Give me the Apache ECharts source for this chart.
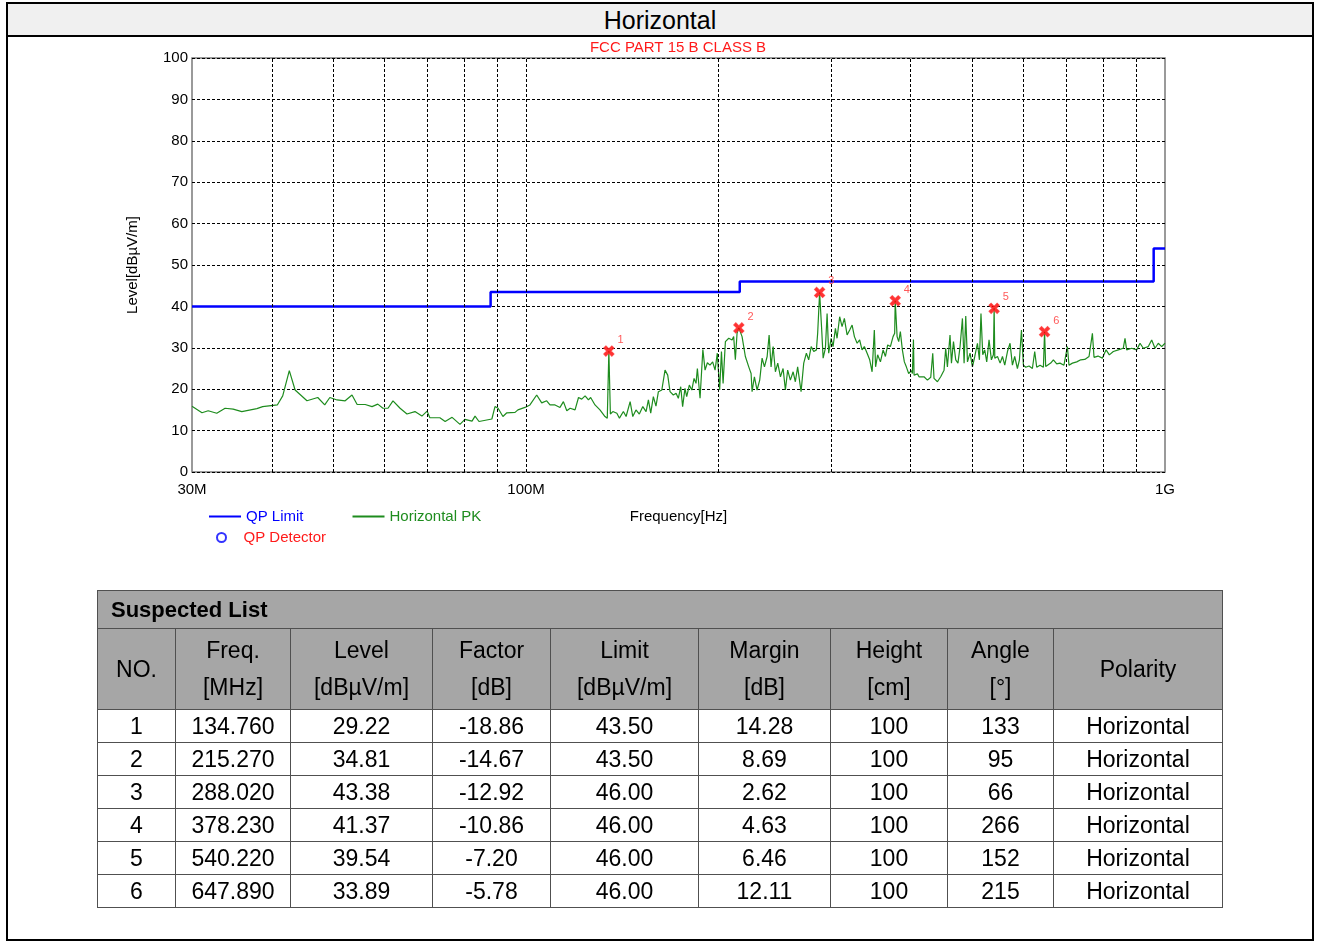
<!DOCTYPE html>
<html>
<head>
<meta charset="utf-8">
<script src="https://cdn.jsdelivr.net/npm/echarts@6/dist/echarts.min.js"></script>
<style>
  html, body { margin: 0; padding: 0; background: #fff; }
  body { width: 1318px; height: 942px; position: relative; overflow: hidden; font-family: "Liberation Sans", Arial, sans-serif; }
  #chart { position: absolute; left: 0; top: 0; width: 1318px; height: 942px; }
  #frame { position: absolute; left: 6px; top: 2px; width: 1308px; height: 939px; border: 2px solid #000; box-sizing: border-box; pointer-events: none; }
  #titlebar { position: absolute; left: 6px; top: 2px; width: 1308px; height: 35px; box-sizing: border-box; background: #f0f0f0; border: 2px solid #000; text-align: center; font-size: 25px; line-height: 33px; color: #000; }
  #tbl { position: absolute; left: 97px; top: 590px; border-collapse: collapse; font-size: 23px; color: #000; }
  #tbl td, #tbl th { border: 1px solid #505050; padding: 0; text-align: center; font-weight: normal; }
  #tbl .cap { background: #a6a6a6; text-align: left; font-weight: bold; padding-left: 13px; height: 37px; font-size: 22px; }
  #tbl .hd th { background: #a6a6a6; height: 80px; line-height: 37px; }
  #tbl .row td { height: 31px; line-height: 31px; padding-top: 1px; }
</style>
</head>
<body>
<div id="chart"></div>
<div id="titlebar">Horizontal</div>
<div id="frame"></div>
<table id="tbl"></table>
<script>
// ---------- data ----------
const xTickLabels = { 30: '30M', 100: '100M', 1000: '1G' };
const yTicks = [0, 10, 20, 30, 40, 50, 60, 70, 80, 90, 100];
const gridFreqs = [40, 50, 60, 70, 80, 90, 100, 200, 300, 400, 500, 600, 700, 800, 900];

// QP limit (MHz, dBuV/m)
const limitFreq  = [30, 88, 88, 216, 216, 960, 960, 1000];
const limitLevel = [40, 40, 43.5, 43.5, 46, 46, 54, 54];

// Horizontal PK trace [MHz, dBuV/m]
const pkTrace = [
  [30.0,15.9],[31.1,14.3],[31.8,14.8],[32.8,14.2],[33.8,15.4],[34.8,15.2],[35.9,14.6],[37.9,15.3],[38.7,15.8],
  [40.8,16.2],[41.6,18.4],[42.6,24.5],[43.5,19.8],[45.4,17.2],[47.2,18.0],[48.4,16.2],[49.3,18.0],[50.6,17.4],
  [52.1,17.2],[53.4,18.6],[54.4,16.3],[56.0,16.3],[57.4,15.8],[58.6,16.4],[59.7,15.4],[60.8,15.4],[61.9,17.2],
  [63.5,15.4],[65.1,14.0],[67.0,14.6],[68.7,13.5],[70.0,14.7],[70.7,13.1],[73.3,13.1],[74.7,12.2],[76.6,13.2],
  [78.8,11.5],[80.2,12.7],[82.3,12.3],[83.2,13.5],[84.4,12.2],[88.4,12.8],[89.4,15.8],[90.4,15.4],[92.0,13.4],
  [93.3,14.3],[96.1,14.4],[97.1,15.0],[99.6,15.6],
  [101.4,16.2],[103.9,18.6],[105.8,16.7],[107.7,17.2],[109.0,16.2],[111.0,16.2],[113.0,15.6],[114.4,17.0],
  [115.8,14.8],[117.2,15.4],[119.3,15.0],[120.8,18.0],[122.2,17.6],[123.7,18.4],[125.2,17.4],[126.2,18.0],
  [128.2,16.2],[130.5,15.0],[132.9,13.4],[134.0,13.0],[134.76,29.22],[135.5,14.0],[136.7,14.6],[138.7,14.2],
  [140.0,13.0],[142.0,14.6],[143.4,13.4],[145.5,17.0],[146.9,13.4],[148.6,15.0],[150.4,14.0],[152.3,15.8],
  [154.1,14.6],[155.4,17.4],[156.7,14.2],[158.2,18.2],[159.7,15.9],[161.1,19.4],[163.1,19.8],[165.0,24.6],
  [166.6,23.4],[168.0,19.4],[170.0,18.6],[171.7,19.0],[173.1,17.8],[174.6,20.6],[175.8,15.8],[177.3,20.2],
  [178.4,18.2],[180.1,21.0],[181.7,19.8],[183.2,22.6],[184.5,21.4],[185.4,25.0],[187.2,17.8],[189.1,29.6],
  [190.6,24.6],[192.2,26.4],[194.0,25.8],[195.9,26.6],[197.6,24.6],[199.2,28.7],[200.9,19.8],[202.2,29.1],
  [203.4,21.4],[205.1,31.5],[207.6,32.3],[208.8,32.3],[210.1,31.9],[211.3,32.7],[212.6,27.1],[213.9,33.5],
  [215.27,34.81],[217.8,32.7],[220.4,27.9],[223.1,25.4],[225.0,23.8],[225.8,19.4],[227.7,23.0],[229.9,19.8],
  [232.1,22.2],[234.1,27.5],[236.1,25.4],[238.4,27.9],[240.1,33.1],[241.8,25.4],[243.6,30.3],[245.6,24.2],
  [247.7,26.3],[250.1,23.0],[252.5,25.0],[254.6,19.8],[256.7,24.6],[259.2,22.2],[261.8,24.2],[263.9,21.8],
  [266.1,25.4],[269.4,19.4],[272.0,26.3],[274.6,28.7],[276.9,27.1],[279.4,30.3],[282.0,29.1],[284.7,29.5],
  [286.0,33.5],[288.02,43.38],[290.2,34.3],[291.7,27.5],[294.1,29.9],[295.9,38.3],[297.6,28.7],[300.2,32.3],
  [302.3,30.3],[304.9,34.7],[306.7,32.3],[309.6,37.5],[312.3,35.1],[314.9,37.1],[318.0,33.1],[321.0,34.3],
  [323.8,35.5],[326.5,32.7],[329.7,31.1],[332.7,31.9],[335.6,29.5],[338.4,30.3],[341.8,28.7],[345.0,27.1],
  [348.0,24.2],[350.8,34.3],[352.4,25.4],[355.0,28.3],[358.6,26.6],[362.1,29.5],[365.1,27.9],[368.1,30.7],
  [371.7,30.3],[375.3,32.7],[377.5,33.5],[378.23,41.37],[380.8,32.7],[383.0,31.5],[385.3,33.9],[388.1,29.5],
  [390.9,26.6],[393.7,25.4],[397.0,23.8],[401.0,24.5],[402.4,23.8],[403.9,32.0],[404.8,23.4],[407.3,23.4],
  [409.8,23.7],[412.1,23.0],[419.6,23.0],[424.8,22.2],[429.9,22.9],[433.0,28.7],[435.0,22.6],[440.4,21.8],
  [445.6,23.0],[451.0,24.6],[453.7,29.9],[456.5,25.4],[460.8,33.1],[463.2,26.3],[466.6,31.5],[470.4,27.1],
  [474.2,26.3],[477.8,30.3],[481.9,37.1],[484.8,26.3],[487.7,37.7],[490.7,26.6],[495.3,28.7],[499.6,25.4],
  [503.8,27.9],[508.7,31.1],[512.3,27.1],[515.2,38.3],[518.5,28.3],[522.2,29.5],[526.0,26.6],[530.4,31.9],
  [534.9,27.1],[538.8,28.3],[540.22,39.54],[541.5,27.5],[546.8,27.9],[552.0,26.3],[556.7,27.9],[561.3,25.8],
  [566.8,29.1],[572.1,31.1],[577.0,25.8],[581.8,27.9],[587.5,25.0],[591.8,27.1],[596.1,34.3],[600.4,25.8],
  [605.4,25.3],[612.6,25.6],[620.1,25.0],[625.3,29.1],[629.8,25.3],[637.4,25.8],[645.2,25.3],[647.89,33.89],
  [650.5,25.5],[654.6,25.8],[662.4,26.3],[668.8,27.1],[676.9,26.1],[685.0,26.3],[694.8,25.8],[703.4,30.3],
  [707.5,25.8],[716.3,26.3],[727.6,26.6],[738.1,27.1],[748.9,27.2],[760.5,27.9],[769.8,33.5],[774.3,27.7],
  [785.5,28.0],[797.9,27.5],[808.7,29.5],[818.2,28.3],[830.1,29.1],[845.2,29.5],[860.4,29.9],[865.8,32.3],
  [871.0,29.5],[886.9,29.9],[903.0,29.5],[913.9,31.1],[924.8,29.9],[941.6,30.3],[953.2,31.9],[964.6,29.9],
  [976.1,31.1],[988.2,30.3],[1000,31.1]
];

// Suspected list
const suspNo       = [1, 2, 3, 4, 5, 6];
const suspFreq     = [134.760, 215.270, 288.020, 378.230, 540.220, 647.890];
const suspLevel    = [29.22, 34.81, 43.38, 41.37, 39.54, 33.89];
const suspFactor   = [-18.86, -14.67, -12.92, -10.86, -7.20, -5.78];
const suspLimit    = [43.50, 43.50, 46.00, 46.00, 46.00, 46.00];
const suspMargin   = [14.28, 8.69, 2.62, 4.63, 6.46, 12.11];
const suspHeight   = [100, 100, 100, 100, 100, 100];
const suspAngle    = [133, 95, 66, 266, 152, 215];
const suspPolarity = ['Horizontal', 'Horizontal', 'Horizontal', 'Horizontal', 'Horizontal', 'Horizontal'];

const tableHeaders = [['NO.'], ['Freq.', '[MHz]'], ['Level', '[dBµV/m]'], ['Factor', '[dB]'], ['Limit', '[dBµV/m]'],
  ['Margin', '[dB]'], ['Height', '[cm]'], ['Angle', '[°]'], ['Polarity']];
const colWidths = [78, 115, 142, 118, 148, 132, 117, 106, 169];

// ---------- table ----------
(function buildTable() {
  const t = document.getElementById('tbl');
  let h = '<colgroup>' + colWidths.map(w => '<col style="width:' + w + 'px">').join('') + '</colgroup>';
  h += '<tr><td class="cap" colspan="9">Suspected List</td></tr>';
  h += '<tr class="hd">' + tableHeaders.map(a => '<th>' + a.join('<br>') + '</th>').join('') + '</tr>';
  for (let i = 0; i < suspNo.length; i++) {
    h += '<tr class="row"><td>' + suspNo[i] + '</td><td>' + suspFreq[i].toFixed(3) + '</td><td>' + suspLevel[i].toFixed(2) +
      '</td><td>' + suspFactor[i].toFixed(2) + '</td><td>' + suspLimit[i].toFixed(2) + '</td><td>' + suspMargin[i].toFixed(2) +
      '</td><td>' + suspHeight[i] + '</td><td>' + suspAngle[i] + '</td><td>' + suspPolarity[i] + '</td></tr>';
  }
  t.innerHTML = h;
})();

// ---------- chart ----------
const FONT = '"Liberation Sans", Arial, sans-serif';
const chart = echarts.init(document.getElementById('chart'), null, { renderer: 'canvas' });
const xMarkSymbol = 'path://M2,0 L5,3 L8,0 L10,2 L7,5 L10,8 L8,10 L5,7 L2,10 L0,8 L3,5 L0,2 Z';

chart.setOption({
  animation: false,
  textStyle: { fontFamily: FONT },
  title: {
    text: 'FCC PART 15 B CLASS B',
    left: 678, top: 40, padding: 0, textAlign: 'center',
    textStyle: { color: '#ff1a1a', fontSize: 15, fontWeight: 'normal', fontFamily: FONT }
  },
  grid: { left: 192, top: 58, width: 973, height: 414, show: true, borderColor: '#7a7a7a', borderWidth: 1.5, backgroundColor: 'transparent' },
  legend: [
    {
      left: 209, top: 509, padding: 0, itemWidth: 32, itemHeight: 2, itemGap: 49, selectedMode: false,
      icon: 'rect',
      textStyle: { fontSize: 15, fontFamily: FONT },
      data: [
        { name: 'QP Limit', icon: 'rect', textStyle: { color: '#0000ff' } },
        { name: 'Horizontal PK', icon: 'rect', textStyle: { color: '#1e8c1e' } }
      ]
    },
    {
      left: 216, top: 530, padding: 0, itemWidth: 24, itemHeight: 9, selectedMode: false,
      textStyle: { fontSize: 15, fontFamily: FONT, padding: [0, 0, 0, 5] },
      data: [{ name: 'QP Detector', textStyle: { color: '#ff1a1a' } }]
    }
  ],
  xAxis: {
    type: 'log', logBase: 10, min: 30, max: 1000,
    name: 'Frequency[Hz]', nameLocation: 'middle', nameGap: 37,
    nameTextStyle: { fontSize: 15, color: '#000', fontFamily: FONT },
    axisLine: { show: false }, axisTick: { show: false }, splitLine: { show: false },
    axisLabel: {
      show: true, fontSize: 15, color: '#000', margin: 10, showMinLabel: true, showMaxLabel: true,
      formatter: v => {
        const k = Object.keys(xTickLabels).find(key => Math.abs(Number(key) - v) / v < 0.01);
        return k ? xTickLabels[k] : '';
      }
    }
  },
  yAxis: {
    type: 'value', min: yTicks[0], max: yTicks[yTicks.length - 1], interval: 10,
    name: 'Level[dBµV/m]', nameLocation: 'middle', nameGap: 52,
    nameTextStyle: { fontSize: 15, color: '#000', fontFamily: FONT },
    axisLine: { show: false }, axisTick: { show: false },
    axisLabel: { fontSize: 15, color: '#000', margin: 4 },
    splitLine: { show: true, lineStyle: { color: '#000', type: [3, 2], width: 1 } }
  },
  series: [
    {
      name: 'gridlines', type: 'line', data: [[30, 0]], symbol: 'none', silent: true,
      lineStyle: { opacity: 0 }, z: 1,
      markLine: {
        silent: true, symbol: ['none', 'none'], label: { show: false }, animation: false,
        lineStyle: { color: '#000', type: [3, 2], width: 1 },
        emphasis: { disabled: true },
        data: gridFreqs.map(f => ({ xAxis: f }))
      }
    },
    {
      name: 'Horizontal PK', type: 'line', data: pkTrace, symbol: 'none', showSymbol: false, z: 3,
      itemStyle: { color: '#1e8c1e' },
      lineStyle: { color: '#1e8c1e', width: 1.2 }
    },
    {
      name: 'QP Limit', type: 'line', symbol: 'none', showSymbol: false, z: 4,
      data: limitFreq.map((f, i) => [f, limitLevel[i]]),
      itemStyle: { color: '#0000ff' },
      lineStyle: { color: '#0000ff', width: 2.5 }
    },
    {
      name: 'QP Detector', type: 'scatter', data: [], symbol: 'emptyCircle', symbolSize: 8,
      itemStyle: { color: '#0000ff', borderColor: '#0000ff', borderWidth: 2.5 }
    },
    {
      name: 'Suspected', type: 'scatter', z: 5, symbol: xMarkSymbol, symbolSize: 10,
      data: suspFreq.map((f, i) => ({ value: [f, suspLevel[i]], name: String(suspNo[i]) })),
      itemStyle: { color: '#ff0000', borderColor: '#ff3030', borderWidth: 1.2 },
      label: {
        show: true, position: 'right', distance: 3, offset: [0, -11],
        formatter: p => p.name, color: '#ff3030', fontSize: 11, fontFamily: FONT
      }
    }
  ]
});
</script>
</body>
</html>
